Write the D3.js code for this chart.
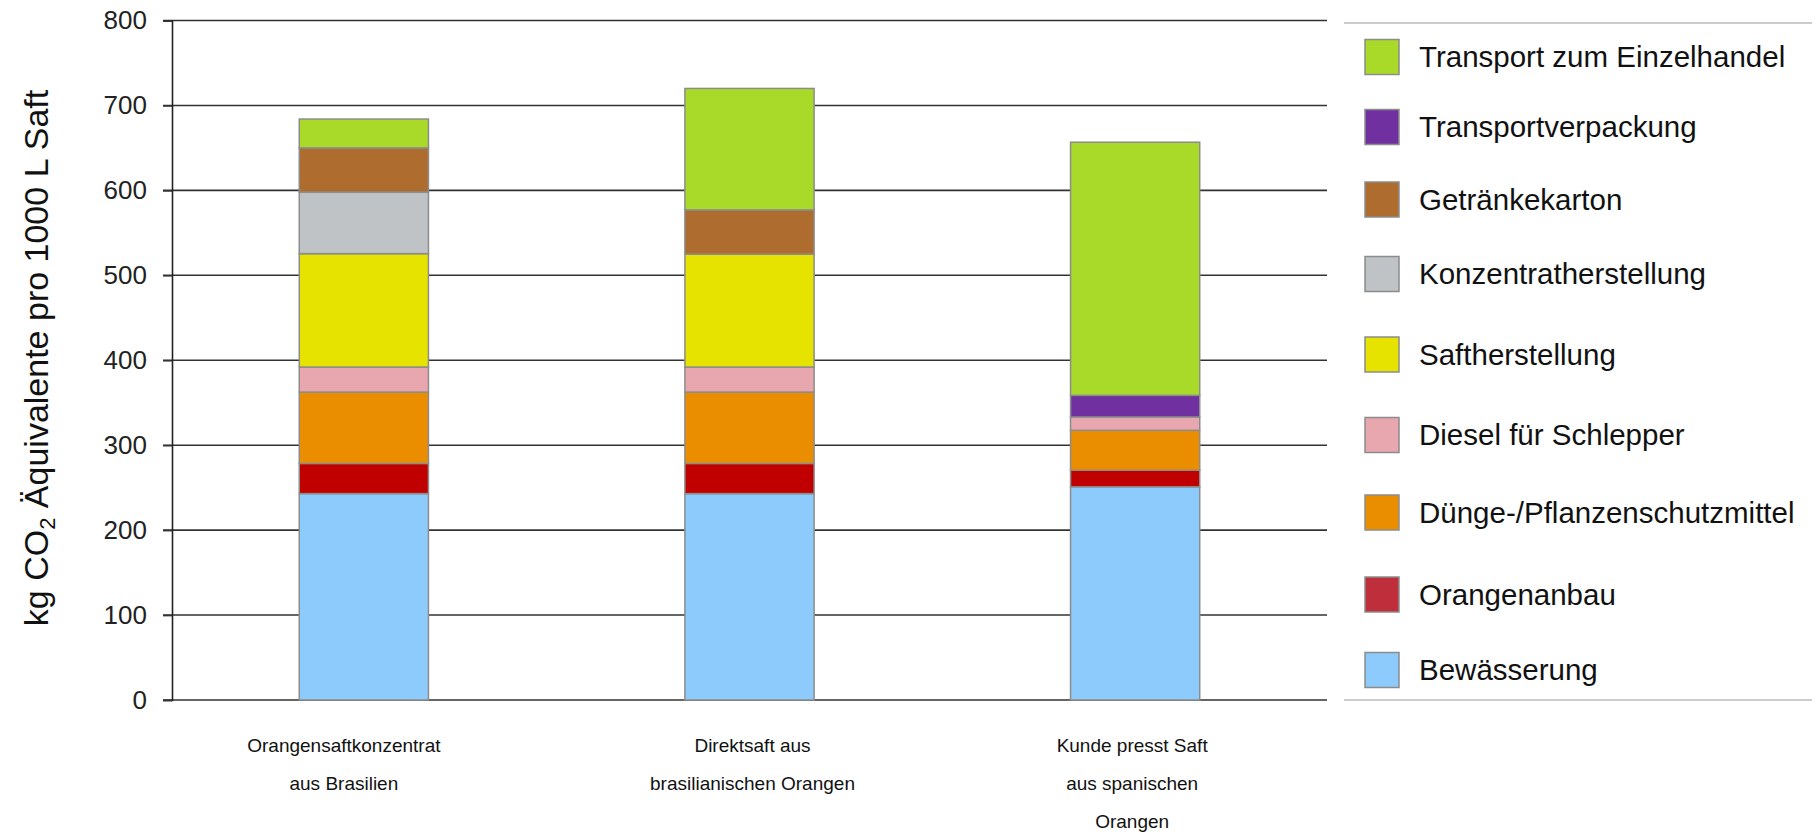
<!DOCTYPE html>
<html>
<head>
<meta charset="utf-8">
<script src="https://cdn.jsdelivr.net/npm/d3@7"></script>
<style>
  body { margin: 0; background: #fff; }
  #chart { width: 1818px; height: 834px; }
  text { font-family: "Liberation Sans", Arial, sans-serif; }
</style>
</head>
<body>
<div id="chart"></div>
<script>
// Categories (x axis), each label split into lines
const categories = ["konzentrat", "direkt", "spanien"];
const categoryLabels = [
  ["Orangensaftkonzentrat", "aus Brasilien"],
  ["Direktsaft aus", "brasilianischen Orangen"],
  ["Kunde presst Saft", "aus spanischen", "Orangen"],
];

// Series from bottom of the stack to top
const seriesNames = [
  "Bewässerung",
  "Orangenanbau",
  "Dünge-/Pflanzenschutzmittel",
  "Diesel für Schlepper",
  "Saftherstellung",
  "Konzentratherstellung",
  "Getränkekarton",
  "Transportverpackung",
  "Transport zum Einzelhandel",
];

// Values per series, one per category
const bewaesserung = [243, 243, 251];
const orangenanbau = [35.5, 35.5, 19.5];
const duenge = [84, 84, 47];
const diesel = [29.5, 29.5, 15.7];
const saftherstellung = [133.5, 133, 0];
const konzentrat = [72.5, 0, 0];
const getraenkekarton = [52, 52, 0];
const transportverpackung = [0, 0, 25.5];
const transport = [34, 143, 298];

const yTicks = [0, 100, 200, 300, 400, 500, 600, 700, 800];

const seriesValues = [
  bewaesserung, orangenanbau, duenge, diesel, saftherstellung,
  konzentrat, getraenkekarton, transportverpackung, transport,
];

// Colours for bars and legend swatches
const barColors = ["#8dcbfd", "#c00000", "#ea8e00", "#e8a7ae", "#e6e300",
  "#bfc3c5", "#ae6c2f", "#7030a0", "#a9da29"];
const swatchColors = ["#8dcbfd", "#bf2f3b", "#ea8e00", "#e8a7ae", "#e6e300",
  "#bfc3c5", "#ae6c2f", "#7030a0", "#a9da29"];

// Layout tweaks: label shift per category, legend row centres (top to bottom)
const labelShift = [-20, 3, -3];
const legendRowY = [57, 127, 199.5, 274, 354.5, 435, 512.5, 594.5, 670];

const width = 1818;
const height = 834;

// Build the table d3.stack needs
const table = categories.map((c, i) => {
  const row = { category: c };
  seriesNames.forEach((s, j) => (row[s] = seriesValues[j][i]));
  return row;
});

const stacked = d3.stack().keys(seriesNames)(table);

const svg = d3
  .select("#chart")
  .append("svg")
  .attr("width", width)
  .attr("height", height);

// Scales
const x = d3
  .scaleBand()
  .domain(categories)
  .range([172, 1327])
  .paddingInner(0.665)
  .paddingOuter(0.33);

const y = d3.scaleLinear().domain([0, 800]).range([700, 20.5]);

// Horizontal gridlines behind the bars
svg
  .append("g")
  .selectAll("line")
  .data(yTicks)
  .join("line")
  .attr("x1", 163)
  .attr("x2", 1327)
  .attr("y1", (d) => y(d))
  .attr("y2", (d) => y(d))
  .attr("stroke", "#333")
  .attr("stroke-width", 1.6);

// Y axis
const yAxis = svg
  .append("g")
  .attr("transform", "translate(172,0)")
  .call(d3.axisLeft(y).tickValues(yTicks).tickSize(9).tickPadding(16));
yAxis.select(".domain").attr("stroke", "#222").attr("stroke-width", 1.6);
yAxis.selectAll(".tick line").attr("stroke", "#333").attr("stroke-width", 1.6);
yAxis
  .selectAll(".tick text")
  .attr("font-size", 26)
  .attr("fill", "#222")
  .attr("font-family", "Liberation Sans, Arial, sans-serif");

// Y axis title with subscript
const yTitle = svg
  .append("text")
  .attr("transform", "translate(48,358) rotate(-90)")
  .attr("text-anchor", "middle")
  .attr("font-size", 34)
  .attr("fill", "#111");
yTitle.append("tspan").text("kg CO");
yTitle.append("tspan").attr("font-size", 22).attr("dy", 7).text("2");
yTitle.append("tspan").attr("dy", -7).text(" Äquivalente pro 1000 L Saft");

// Stacked bars
svg
  .append("g")
  .selectAll("g")
  .data(stacked)
  .join("g")
  .attr("fill", (d, i) => barColors[i])
  .selectAll("rect")
  .data((d) => d.filter((p) => p[1] - p[0] > 0))
  .join("rect")
  .attr("x", (d) => x(d.data.category))
  .attr("width", x.bandwidth())
  .attr("y", (d) => y(d[1]))
  .attr("height", (d) => y(d[0]) - y(d[1]))
  .attr("stroke", "#8c8c8c")
  .attr("stroke-width", 1.5);

// Category labels below the chart
const labels = svg
  .append("g")
  .selectAll("text")
  .data(categories)
  .join("text")
  .attr("text-anchor", "middle")
  .attr("font-size", 19)
  .attr("fill", "#111")
  .attr("transform", (d, i) => `translate(${x(d) + x.bandwidth() / 2 + labelShift[i]},752)`);
labels
  .selectAll("tspan")
  .data((d, i) => categoryLabels[i])
  .join("tspan")
  .attr("x", 0)
  .attr("y", (d, i) => i * 38)
  .text((d) => d);

// Legend box (top and bottom rule only)
const legend = svg.append("g");
legend
  .selectAll("line")
  .data([23, 700])
  .join("line")
  .attr("x1", 1344)
  .attr("x2", 1812)
  .attr("y1", (d) => d)
  .attr("y2", (d) => d)
  .attr("stroke", "#bbb")
  .attr("stroke-width", 1.5);

// Legend items listed top to bottom in reverse stack order
const legendItems = seriesNames.map((s, i) => ({ name: s, color: swatchColors[i] })).reverse();
const item = legend
  .selectAll("g")
  .data(legendItems)
  .join("g")
  .attr("transform", (d, i) => `translate(1365,${legendRowY[i]})`);
item
  .append("rect")
  .attr("x", 0)
  .attr("y", -17.5)
  .attr("width", 34)
  .attr("height", 35)
  .attr("fill", (d) => d.color)
  .attr("stroke", "#8c8c8c")
  .attr("stroke-width", 1.5);
item
  .append("text")
  .attr("x", 54)
  .attr("dy", "0.35em")
  .attr("font-size", 29.5)
  .attr("fill", "#111")
  .text((d) => d.name);
</script>
</body>
</html>
